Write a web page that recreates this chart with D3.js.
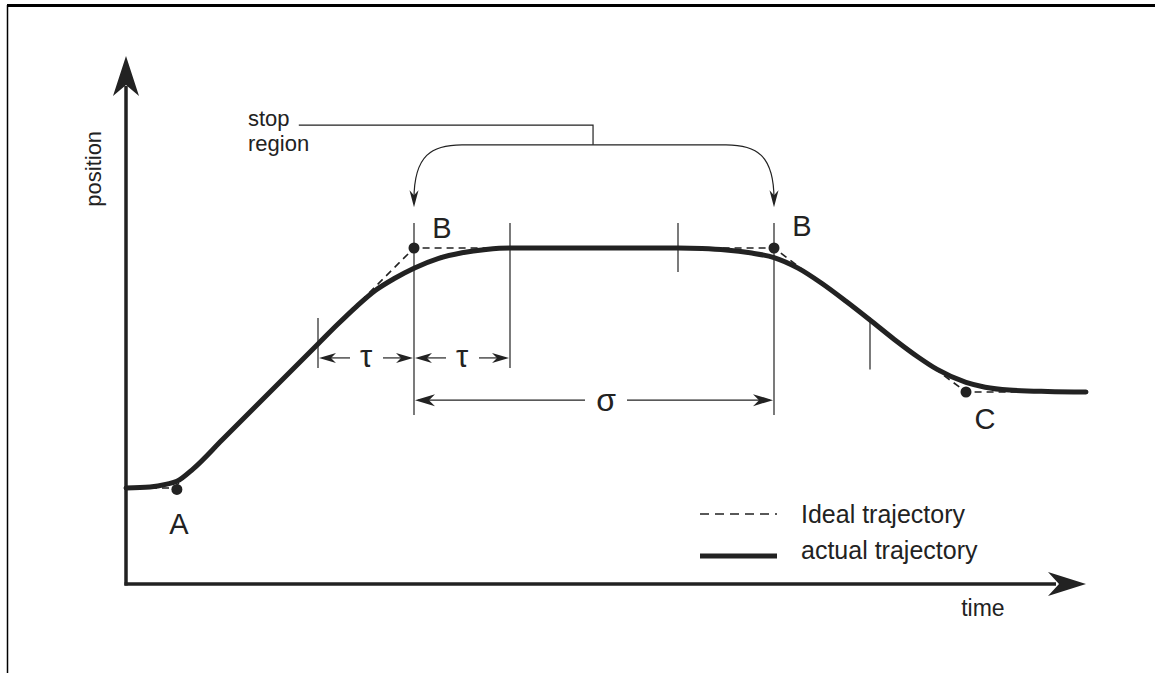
<!DOCTYPE html>
<html>
<head>
<meta charset="utf-8">
<script src="https://cdn.jsdelivr.net/npm/d3@7"></script>
<style>
  body { margin: 0; background: #fff; }
  text { font-family: "Liberation Sans", Arial, sans-serif; fill: #222; }
</style>
</head>
<body>
<svg id="chart" width="1155" height="673"></svg>
<script>
// ideal trajectory (piecewise linear), time / position in arbitrary units
const idealTime = [0, 1, 6, 13.5, 17.5, 20];
const idealPos  = [2, 2, 7, 7, 4, 4];

// actual trajectory
const actualTime = [0, 0.5, 0.85, 1.06, 1.4, 2, 4, 4.4, 4.8, 5.2, 5.6, 6, 6.5, 7, 7.5, 8,
                    11.5, 12, 12.5, 13, 13.5, 14, 14.5, 15, 15.5, 16, 16.5, 16.9, 17.5, 17.9, 18.4, 19.2, 20];
const actualPos  = [2.0, 2.02, 2.08, 2.14, 2.4, 3.0, 5.0, 5.4, 5.78, 6.12, 6.37, 6.58, 6.78, 6.9, 6.97, 7.0,
                    7.0, 6.99, 6.96, 6.9, 6.8, 6.58, 6.26, 5.89, 5.5, 5.1, 4.73, 4.47, 4.2, 4.1, 4.04, 4.01, 4.0];

// labelled corner points
const pointNames = ["A", "B", "B", "C"];
const pointTime  = [1.06, 6, 13.5, 17.5];
const pointPos   = [1.97, 7, 7, 4];

// vertical guide lines (time, top pos, bottom pos)
const guideTime   = [4, 6, 8, 11.5, 13.5, 15.5];
const guideTop    = [5.54, 7.52, 7.52, 7.52, 7.52, 5.55];
const guideBottom = [4.5, 3.52, 4.5, 6.5, 3.52, 4.47];

const tau = 2;
const legendNames = ["Ideal trajectory", "actual trajectory"];

function drawDiagram(holder) {
  let svg = d3.select(holder);
  let x = d3.scaleLinear().domain([0, 20]).range([126, 1086]);
  let y = d3.scaleLinear().domain([0, 10]).range([584, 104]);
  let ink = "#222";

  // frame
  svg.append("line").attr("x1", 7).attr("x2", 1155).attr("y1", 5.5).attr("y2", 5.5)
    .attr("stroke", "#000").attr("stroke-width", 3);
  svg.append("line").attr("x1", 7.5).attr("x2", 7.5).attr("y1", 5).attr("y2", 673)
    .attr("stroke", "#000").attr("stroke-width", 1.5);

  // axes
  let axes = svg.append("g").attr("class", "axes");
  axes.append("line")
    .attr("x1", x(0)).attr("x2", x(0)).attr("y1", y(0) + 1.5).attr("y2", y(11) + 30)
    .attr("stroke", ink).attr("stroke-width", 3.5);
  axes.append("line")
    .attr("x1", x(0) - 1.5).attr("x2", x(20) - 30).attr("y1", y(0)).attr("y2", y(0))
    .attr("stroke", ink).attr("stroke-width", 3.5);
  arrowHead(axes, x(0), y(11), -90, 40, 13, 29, ink);
  arrowHead(axes, x(20), y(0), 0, 38, 12, 27, ink);

  axes.append("text")
    .attr("transform", `translate(${x(0) - 25},${y(8.65)}) rotate(-90)`)
    .attr("text-anchor", "middle")
    .attr("font-size", 22)
    .text("position");
  axes.append("text")
    .attr("x", x(17.4)).attr("y", y(0) + 32)
    .attr("font-size", 23)
    .text("time");

  // guides
  let guides = svg.append("g").attr("class", "guides");
  guides.selectAll("line")
    .data(guideTime.map((t, i) => ({t: t, top: guideTop[i], bottom: guideBottom[i]})))
    .join("line")
    .attr("x1", d => x(d.t)).attr("x2", d => x(d.t))
    .attr("y1", d => y(d.top)).attr("y2", d => y(d.bottom))
    .attr("stroke", ink).attr("stroke-width", 1.2);

  // tau dimension arrows
  let tauY = y(4.71);
  [pointTime[1] - tau, pointTime[1]].forEach(function(t0){
    let x0 = x(t0), x1 = x(t0 + tau), mid = (x0 + x1) / 2;
    guides.append("line").attr("x1", x0 + 4).attr("x2", mid - 16).attr("y1", tauY).attr("y2", tauY)
      .attr("stroke", ink).attr("stroke-width", 1.2);
    guides.append("line").attr("x1", mid + 17).attr("x2", x1 - 4).attr("y1", tauY).attr("y2", tauY)
      .attr("stroke", ink).attr("stroke-width", 1.2);
    arrowHead(guides, x0 + 1, tauY, 180, 17, 5, 12, ink);
    arrowHead(guides, x1 - 1, tauY, 0, 17, 5, 12, ink);
    guides.append("text").attr("x", mid).attr("y", tauY + 9)
      .attr("text-anchor", "middle").attr("font-size", 31).text("τ");
  });

  // sigma dimension arrow
  let sigY = y(3.83);
  let s0 = x(pointTime[1]), s1 = x(pointTime[2]);
  let sMid = (s0 + s1) / 2 + 15;
  guides.append("line").attr("x1", s0 + 4).attr("x2", sMid - 24).attr("y1", sigY).attr("y2", sigY)
    .attr("stroke", ink).attr("stroke-width", 1.2);
  guides.append("line").attr("x1", sMid + 18).attr("x2", s1 - 4).attr("y1", sigY).attr("y2", sigY)
    .attr("stroke", ink).attr("stroke-width", 1.2);
  arrowHead(guides, s0 + 1, sigY, 180, 20, 6, 14, ink);
  arrowHead(guides, s1 - 1, sigY, 0, 20, 6, 14, ink);
  guides.append("text").attr("x", sMid - 3).attr("y", sigY + 11)
    .attr("text-anchor", "middle").attr("font-size", 32).text("σ");

  // stop region bracket
  let br = svg.append("g").attr("class", "bracket");
  let bx0 = x(pointTime[1]), bx1 = x(pointTime[2]);
  let topY = y(9.56), brY = y(9.15), tipY = y(7.85), midX = x(9.73);
  br.append("path")
    .attr("d", `M${x(3.6)},${topY} H${midX} V${brY}`)
    .attr("fill", "none").attr("stroke", ink).attr("stroke-width", 1.2);
  br.append("path")
    .attr("d", `M${bx0},${tipY - 8} C${bx0},${brY + 10} ${bx0 + 18},${brY} ${bx0 + 48},${brY}`
      + ` H${bx1 - 48} C${bx1 - 18},${brY} ${bx1},${brY + 10} ${bx1},${tipY - 8}`)
    .attr("fill", "none").attr("stroke", ink).attr("stroke-width", 1.2);
  arrowHead(br, bx0, tipY, 90, 17, 4.5, 12, ink);
  arrowHead(br, bx1, tipY, 90, 17, 4.5, 12, ink);
  br.append("text").attr("x", 248).attr("y", topY + 1).attr("font-size", 22).text("stop");
  br.append("text").attr("x", 248).attr("y", topY + 26).attr("font-size", 22).text("region");

  // trajectories
  let ideal = idealTime.map((t, i) => ({t: t, p: idealPos[i]}));
  let actual = actualTime.map((t, i) => ({t: t, p: actualPos[i]}));
  let straight = d3.line().x(d => x(d.t)).y(d => y(d.p));
  let smooth = d3.line().x(d => x(d.t)).y(d => y(d.p)).curve(d3.curveMonotoneX);

  svg.append("path").datum(ideal)
    .attr("d", straight)
    .attr("fill", "none").attr("stroke", ink).attr("stroke-width", 1.6)
    .attr("stroke-dasharray", "7,5");
  svg.append("path").datum(actual)
    .attr("d", smooth)
    .attr("fill", "none").attr("stroke", ink).attr("stroke-width", 5)
    .attr("stroke-linecap", "round");

  // points and labels
  let pts = pointNames.map((n, i) => ({name: n, t: pointTime[i], p: pointPos[i]}));
  let labelOffset = [[2, 45], [28, -10], [28, -12], [19, 37]];
  let pg = svg.append("g").attr("class", "points");
  pg.selectAll("circle")
    .data(pts)
    .join("circle")
    .attr("cx", d => x(d.t)).attr("cy", d => y(d.p))
    .attr("r", 5.5).attr("fill", ink);
  pg.selectAll("text")
    .data(pts)
    .join("text")
    .attr("x", (d, i) => x(d.t) + labelOffset[i][0])
    .attr("y", (d, i) => y(d.p) + labelOffset[i][1])
    .attr("text-anchor", "middle")
    .attr("font-size", 29)
    .text(d => d.name);

  // legend
  let lg = svg.append("g").attr("class", "legend").attr("transform", "translate(700,0)");
  lg.append("line").attr("x1", 0).attr("x2", 77).attr("y1", 514).attr("y2", 514)
    .attr("stroke", ink).attr("stroke-width", 1.6).attr("stroke-dasharray", "9,6");
  lg.append("line").attr("x1", 0).attr("x2", 77).attr("y1", 556).attr("y2", 556)
    .attr("stroke", ink).attr("stroke-width", 5);
  lg.selectAll("text")
    .data(legendNames)
    .join("text")
    .attr("x", 101)
    .attr("y", (d, i) => 523 + i * 36)
    .attr("font-size", 25)
    .text(d => d);
}

function arrowHead(g, tx, ty, angle, len, half, notch, color) {
  // notched arrow head, tip at (tx, ty), pointing along angle (deg)
  g.append("path")
    .attr("d", `M0,0 L${-len},${-half} L${-notch},0 L${-len},${half} Z`)
    .attr("transform", `translate(${tx},${ty}) rotate(${angle})`)
    .attr("fill", color);
}

drawDiagram("#chart");
</script>
</body>
</html>
